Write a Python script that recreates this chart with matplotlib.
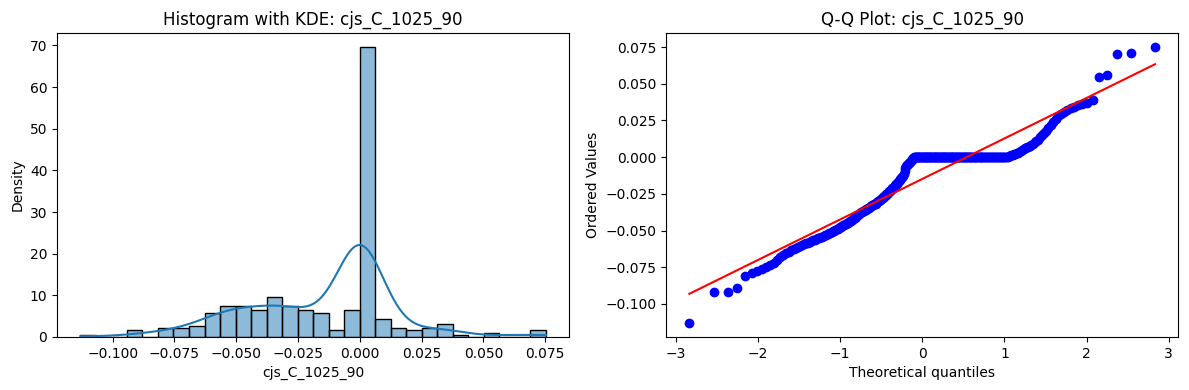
import numpy as np
import matplotlib
matplotlib.use('Agg')
import matplotlib.pyplot as plt
import seaborn as sns
from statistics import NormalDist

name = 'cjs_C_1025_90'

# 样本值（按直方图分箱整理）
neg_values = [
    -0.11304,
    -0.0918, -0.0916, -0.0890,
    -0.0806, -0.0790, -0.0778, -0.0765,
    -0.0750, -0.0735, -0.0718, -0.0700,
    -0.0680, -0.0668, -0.0655, -0.0645, -0.0635,
    -0.0625, -0.0618, -0.0612, -0.0605, -0.0600, -0.0594, -0.0588, -0.0582, -0.0577, -0.0572, -0.0567,
    -0.0562, -0.0558, -0.0554, -0.0550, -0.0546, -0.0542, -0.0538, -0.0533, -0.0529, -0.0524, -0.0519,
    -0.0514, -0.0509, -0.0505,
    -0.0500, -0.0496, -0.0492, -0.0487, -0.0483, -0.0478, -0.0474, -0.0469, -0.0465, -0.0460, -0.0456,
    -0.0451, -0.0447, -0.0443,
    -0.0437, -0.0432, -0.0427, -0.0422, -0.0417, -0.0412, -0.0407, -0.0402, -0.0397, -0.0392, -0.0387, -0.0381,
    -0.0375, -0.0371, -0.0368, -0.0364, -0.0361, -0.0357, -0.0354, -0.0350, -0.0347, -0.0343, -0.0340,
    -0.0336, -0.0333, -0.0329, -0.0326, -0.0322, -0.0319, -0.0316,
    -0.0311, -0.0307, -0.0302, -0.0298, -0.0293, -0.0289, -0.0284, -0.0280, -0.0275, -0.0271, -0.0266,
    -0.0262, -0.0258, -0.0254,
    -0.0248, -0.0243, -0.0238, -0.0233, -0.0228, -0.0222, -0.0217, -0.0212, -0.0207, -0.0202, -0.0197, -0.0192,
    -0.0185, -0.0180, -0.0174, -0.0168, -0.0162, -0.0156, -0.0150, -0.0144, -0.0138, -0.0133, -0.0128,
    -0.0115, -0.0095, -0.0075,
    -0.0060, -0.0056, -0.0052, -0.0047, -0.0042, -0.0037, -0.0032, -0.0027, -0.0021, -0.0015, -0.0009, -0.0004,
]
n_zeros = 117
pos_values = [
    0.0003, 0.0006, 0.0009, 0.0012, 0.0015, 0.0019, 0.0023, 0.0027, 0.0031, 0.0036, 0.0041, 0.0047, 0.0053, 0.0059,
    0.0066, 0.0072, 0.0078, 0.0085, 0.0092, 0.0101, 0.0110, 0.0120,
    0.0135, 0.0150, 0.0165, 0.0180,
    0.0200, 0.0220, 0.0240,
    0.0262, 0.0280, 0.0295, 0.0308,
    0.0320, 0.0332, 0.0344, 0.0354, 0.0362, 0.0370,
    0.0388,
    0.0546, 0.0560,
    0.0700, 0.0712, 0.0753,
]

data = np.array(neg_values + [0.0] * n_zeros + pos_values)

fig, axes = plt.subplots(1, 2, figsize=(11.89, 3.9), dpi=100)
fig.subplots_adjust(left=0.048, right=0.991, top=0.916, bottom=0.136, wspace=0.189)

# 直方图 + KDE
sns.histplot(data, bins=30, kde=True, stat='density', ax=axes[0])
axes[0].set_title(f'Histogram with KDE: {name}')
axes[0].set_xlabel(name)

# Q-Q 图（Filliben 顺序统计量中位数）
n = len(data)
osr = np.sort(data)
v = np.empty(n)
v[-1] = 0.5 ** (1.0 / n)
v[0] = 1 - v[-1]
v[1:-1] = (np.arange(2, n) - 0.3175) / (n + 0.365)
osm = np.array([NormalDist().inv_cdf(p) for p in v])
slope, intercept = np.polyfit(osm, osr, 1)

axes[1].plot(osm, osr, 'bo')
axes[1].plot(osm, slope * osm + intercept, 'r-')
axes[1].set_title(f'Q-Q Plot: {name}')
axes[1].set_xlabel('Theoretical quantiles')
axes[1].set_ylabel('Ordered Values')

plt.savefig('out.png')
